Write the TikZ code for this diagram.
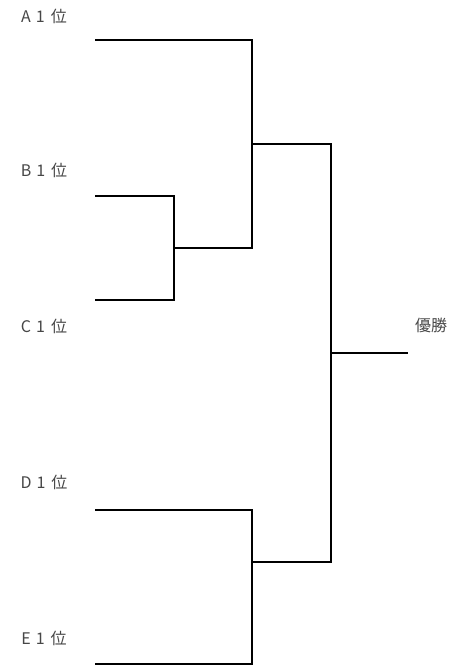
\documentclass[tikz,border=0pt]{standalone}
\usepackage{fontspec}
\usepackage{tikz}
\usetikzlibrary{positioning,calc}
\newfontfamily\cjk{Noto Sans CJK JP}
\newcommand{\rank}[1]{#1\hspace{5pt}1\hspace{6pt}位}

\begin{document}
\begin{tikzpicture}[
  x=1pt,y=-1pt,
  team/.style={font=\cjk\fontsize{16}{18}\selectfont,text=black!72,inner sep=0pt},
  br/.style={line width=1.8pt,black}]
\useasboundingbox (0,0) rectangle (450,666);
% entrants
\node[team] (a) at (44,16)  {\rank{A}};
\node[team] (b) at (44,170) {\rank{B}};
\node[team] (c) at (44,326) {\rank{C}};
\node[team] (d) at (44,482) {\rank{D}};
\node[team] (e) at (44,638) {\rank{E}};
\node[team] (win) at (431,325) {優勝};
% line ends
\coordinate (a0) at (95,40);
\coordinate (b0) at (95,196);
\coordinate (c0) at (95,300);
\coordinate (d0) at (95,510);
\coordinate (e0) at (95,664);
\coordinate (bc) at (174,248);
\coordinate (abc) at (252,144);
\coordinate (de) at (252,562);
\coordinate (fin) at (331,353);
\coordinate (top) at (408,353);
% bracket
\draw[br] (a0) -| (abc) |- (bc);
\draw[br] (b0) -| (bc) |- (c0);
\draw[br] (bc) -- (bc -| abc);
\draw[br] (abc) -| (fin) |- (de);
\draw[br] (d0) -| (de) |- (e0);
\draw[br] (fin) -- (top);
\end{tikzpicture}
\end{document}
